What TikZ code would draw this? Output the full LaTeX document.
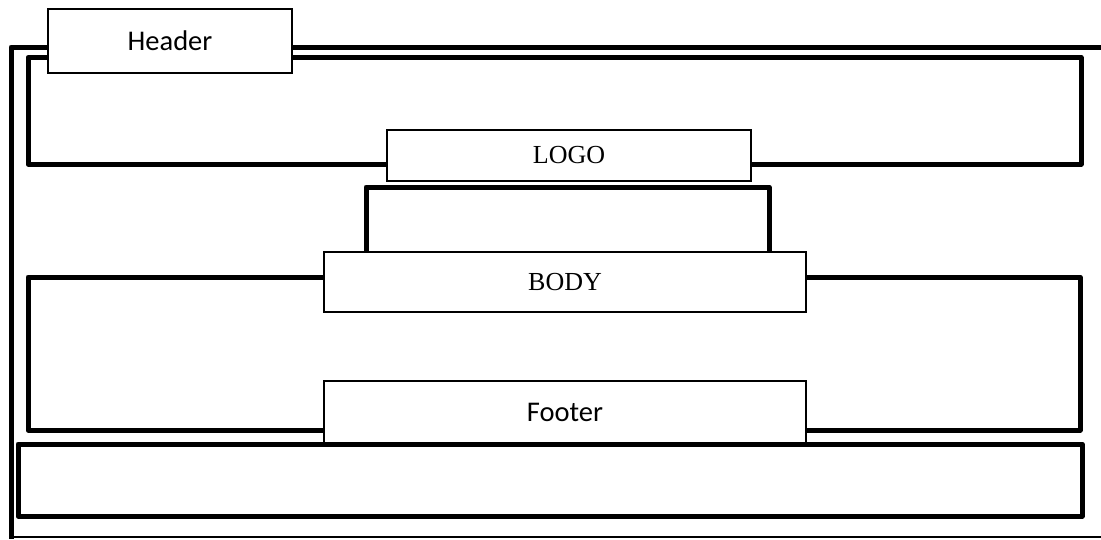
\documentclass[tikz,border=0pt]{standalone}
\usepackage{fontspec}
\setmainfont{Liberation Serif}
\newfontfamily\calibrifont{Carlito}
\tikzset{
  frame/.style={line width=5pt, line join=round},
  thinline/.style={line width=1.5pt},
  box/.style={draw, line width=1.5pt, fill=white, inner sep=0pt},
  sansbox/.style={box, font=\calibrifont\fontsize{28.5}{30}\selectfont},
  serifbox/.style={box, font=\fontsize{26}{28}\selectfont},
}
\begin{document}
\begin{tikzpicture}[x=1pt,y=-1pt]
  \useasboundingbox (0,0) rectangle (1101,539);
  % outer frame
  \draw[frame] (1101,47) -- (11,47) -- (11,539);
  \draw[thinline] (11,537) -- (1101,537);
  % sections
  \draw[frame] (28,57.5) rectangle (1081,164);
  \draw[frame] (366,187) rectangle (769,290);
  \draw[frame] (28,277) rectangle (1080,430);
  \draw[frame] (18,444) rectangle (1082,516);
  % labels
  \node[sansbox, minimum width=244pt, minimum height=64pt] (header) at (170,41) {Header};
  \node[serifbox, minimum width=364pt, minimum height=51pt] (logo) at (569,155.5) {LOGO};
  \node[serifbox, minimum width=482pt, minimum height=60pt] (body) at (565,282) {BODY};
  \node[sansbox, minimum width=482pt, minimum height=62pt] (footer) at (565,412) {Footer};
\end{tikzpicture}
\end{document}
